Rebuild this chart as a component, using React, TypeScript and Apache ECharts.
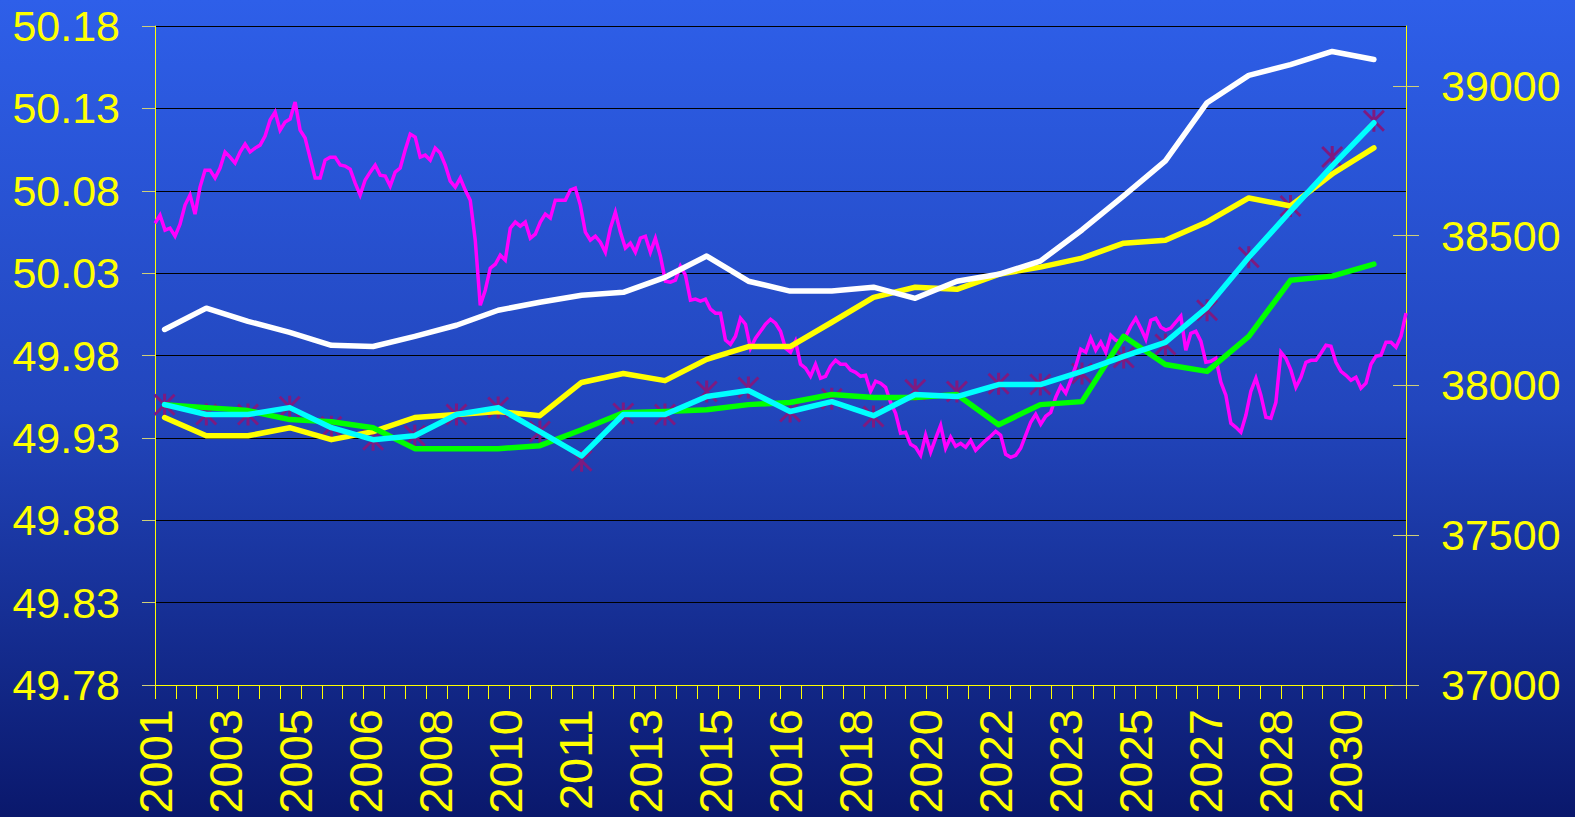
import React, { useEffect, useRef } from "react";
import * as echarts from "echarts";

// ---- data ----
const years = [2001, 2002, 2003, 2004, 2005, 2006, 2007, 2008, 2009, 2010, 2011, 2012, 2013, 2014, 2015, 2016, 2017, 2018, 2019, 2020, 2021, 2022, 2023, 2024, 2025, 2026, 2027, 2028, 2029, 2030];
const xTickLabels = ["2001", "2003", "2005", "2006", "2008", "2010", "2011", "2013", "2015", "2016", "2018", "2020", "2022", "2023", "2025", "2027", "2028", "2030"];
const rightTickValues = [37000, 37500, 38000, 38500, 39000];

const whiteSeries = [38187, 38258, 38214, 38177, 38134, 38130, 38164, 38201, 38251, 38278, 38301, 38311, 38361, 38432, 38348, 38315, 38315, 38328, 38291, 38348, 38371, 38415, 38519, 38633, 38750, 38944, 39035, 39071, 39115, 39088];
const yellowSeries = [37893, 37832, 37832, 37859, 37819, 37846, 37893, 37903, 37913, 37899, 38010, 38040, 38016, 38087, 38130, 38130, 38211, 38294, 38328, 38321, 38371, 38395, 38425, 38475, 38485, 38546, 38626, 38599, 38706, 38793];
const greenSeries = [37936, 37926, 37916, 37886, 37879, 37859, 37789, 37789, 37789, 37799, 37852, 37909, 37913, 37919, 37936, 37943, 37970, 37960, 37960, 37970, 37869, 37936, 37946, 38164, 38070, 38047, 38164, 38351, 38365, 38405];
const cyanSeries = [37936, 37903, 37903, 37926, 37859, 37819, 37832, 37903, 37926, 37846, 37765, 37903, 37903, 37963, 37983, 37913, 37946, 37899, 37970, 37963, 38003, 38003, 38047, 38097, 38144, 38261, 38428, 38582, 38733, 38877];
const starSeries = [37936, 37903, 37903, 37929, 37862, 37819, 37832, 37903, 37926, 37846, 37749, 37906, 37903, 37980, 37993, 37913, 37956, 37896, 37986, 37980, 38006, 38003, 38040, 38093, 38137, 38251, 38428, 38599, 38763, 38884];

const frequency = [
  50.0603, 50.0652, 50.0561, 50.0573, 50.0524, 50.0597, 50.0713, 50.0774, 50.0658, 50.0822,
  50.0925, 50.0925, 50.0877, 50.0938, 50.1035, 50.1004, 50.0968, 50.1035, 50.1083, 50.1035,
  50.1059, 50.1077, 50.1132, 50.1229, 50.1278, 50.1168, 50.1217, 50.1235, 50.1338, 50.1168,
  50.1120, 50.0998, 50.0877, 50.0877, 50.0986, 50.1004, 50.1004, 50.0956, 50.0950, 50.0931,
  50.0846, 50.0774, 50.0865, 50.0913, 50.0956, 50.0895, 50.0889, 50.0828, 50.0913, 50.0938,
  50.1047, 50.1144, 50.1126, 50.1004, 50.1016, 50.0986, 50.1059, 50.1029, 50.0956, 50.0859,
  50.0822, 50.0877, 50.0804, 50.0743, 50.0500, 50.0105, 50.0196, 50.0330, 50.0354, 50.0409,
  50.0379, 50.0573, 50.0610, 50.0585, 50.0610, 50.0512, 50.0537, 50.0610, 50.0658, 50.0634,
  50.0743, 50.0743, 50.0743, 50.0804, 50.0816, 50.0713, 50.0549, 50.0500, 50.0524, 50.0488,
  50.0427, 50.0573, 50.0670, 50.0549, 50.0452, 50.0482, 50.0427, 50.0512, 50.0524, 50.0427,
  50.0512, 50.0403, 50.0251, 50.0245, 50.0257, 50.0342, 50.0288, 50.0136, 50.0142, 50.0130,
  50.0142, 50.0081, 50.0057, 50.0057, 49.9893, 49.9868, 49.9917, 50.0026, 49.9990, 49.9844,
  49.9905, 49.9947, 49.9990, 50.0020, 49.9996, 49.9947, 49.9844, 49.9820, 49.9887, 49.9747,
  49.9723, 49.9674, 49.9747, 49.9662, 49.9674, 49.9735, 49.9771, 49.9747, 49.9747, 49.9711,
  49.9698, 49.9674, 49.9680, 49.9583, 49.9644, 49.9632, 49.9607, 49.9516, 49.9449, 49.9328,
  49.9334, 49.9261, 49.9243, 49.9194, 49.9316, 49.9213, 49.9297, 49.9376, 49.9237, 49.9304,
  49.9249, 49.9267, 49.9243, 49.9285, 49.9225, 49.9255, 49.9285, 49.9310, 49.9340, 49.9316,
  49.9200, 49.9182, 49.9194, 49.9237, 49.9316, 49.9395, 49.9443, 49.9383, 49.9431, 49.9455,
  49.9547, 49.9613, 49.9571, 49.9650, 49.9735, 49.9838, 49.9820, 49.9905, 49.9832, 49.9881,
  49.9820, 49.9923, 49.9893, 49.9881, 49.9917, 49.9978, 50.0026, 49.9966, 49.9899, 50.0014,
  50.0026, 49.9972, 49.9954, 49.9966, 50.0002, 50.0039, 49.9832, 49.9935, 49.9947, 49.9887,
  49.9759, 49.9765, 49.9783, 49.9638, 49.9559, 49.9389, 49.9364, 49.9334, 49.9437, 49.9583,
  49.9662, 49.9559, 49.9425, 49.9419, 49.9516, 49.9820, 49.9783, 49.9711, 49.9607, 49.9668,
  49.9759, 49.9771, 49.9771, 49.9814, 49.9862, 49.9856, 49.9759, 49.9704, 49.9680, 49.9650,
  49.9668, 49.9601, 49.9632, 49.9747, 49.9796, 49.9802, 49.9881, 49.9881, 49.9850, 49.9917,
  50.0057,
];

const LABEL_STEP = 14;
const FONT = "'Liberation Sans', Arial, sans-serif";
const YELLOW = "#FFFF00";
const STAR_PATH =
  "path://M8.5,-1L11.5,-1L11.5,21L8.5,21Z" +
  "M-1,1L1,-1L21,19L19,21Z" +
  "M19,-1L21,1L1,21L-1,19Z";

export default function App() {
  const ref = useRef<HTMLDivElement>(null);

  useEffect(() => {
    if (!ref.current) return;
    const chart = echarts.init(ref.current, null, { renderer: "svg" });

    const categories = frequency.map((_, i) =>
      i % LABEL_STEP === 0 && xTickLabels[i / LABEL_STEP] ? xTickLabels[i / LABEL_STEP] : ""
    );
    const pair = (vals: number[]) => vals.map((v, i) => [years[i], v]);

    const lineStyle = (color: string) => ({
      color,
      width: 5.5,
      cap: "round",
      join: "round",
    });

    const option: any = {
      animation: false,
      backgroundColor: {
        type: "linear",
        x: 0,
        y: 0,
        x2: 0,
        y2: 1,
        colorStops: [
          { offset: 0, color: "#2E5FE9" },
          { offset: 0.5, color: "#2246BD" },
          { offset: 1, color: "#0A186C" },
        ],
      },
      grid: {
        left: 155,
        right: 169,
        top: 26,
        bottom: 132,
        containLabel: false,
        outerBoundsMode: "none",
      },
      xAxis: [
        {
          type: "category",
          position: "bottom",
          data: categories,
          boundaryGap: false,
          axisLine: { show: false },
          axisTick: { show: false },
          splitLine: { show: false },
          axisLabel: {
            interval: (i: number) => i % LABEL_STEP === 0,
            rotate: 90,
            margin: 24,
            color: YELLOW,
            fontSize: 47,
            fontFamily: FONT,
          },
        },
        {
          type: "value",
          position: "bottom",
          min: 0,
          max: 60,
          interval: 1,
          axisLine: { show: true, lineStyle: { color: YELLOW, width: 1 } },
          axisTick: { show: true, length: 14, lineStyle: { color: YELLOW, width: 1 } },
          axisLabel: { show: false },
          splitLine: { show: false },
        },
        {
          type: "value",
          position: "bottom",
          min: 2000.77,
          max: 2030.77,
          show: false,
          splitLine: { show: false },
        },
      ],
      yAxis: [
        {
          type: "value",
          position: "left",
          min: 49.78,
          max: 50.18,
          interval: 0.05,
          axisLine: { show: true, lineStyle: { color: YELLOW, width: 1 } },
          axisTick: { show: true, length: 13, lineStyle: { color: "#CFCF78", width: 1 } },
          axisLabel: {
            margin: 35,
            color: YELLOW,
            fontSize: 43,
            fontFamily: FONT,
            formatter: (v: number) => v.toFixed(2),
          },
          splitLine: { show: true, lineStyle: { color: "#000000", width: 1 } },
        },
        {
          type: "value",
          position: "right",
          min: 37000,
          max: 39200,
          axisLine: { show: true, lineStyle: { color: YELLOW, width: 1 } },
          axisTick: {
            show: true,
            length: 13,
            customValues: rightTickValues,
            lineStyle: { color: "#CFCF78", width: 1 },
          },
          axisLabel: {
            customValues: rightTickValues,
            margin: 35,
            color: YELLOW,
            fontSize: 43,
            fontFamily: FONT,
            formatter: (v: number) => String(Math.round(v)),
          },
          splitLine: { show: false },
        },
        {
          type: "value",
          position: "right",
          min: 37000,
          max: 39200,
          axisLine: { show: false },
          axisTick: {
            show: true,
            inside: true,
            length: 13,
            customValues: rightTickValues,
            lineStyle: { color: "#CFCF78", width: 1 },
          },
          axisLabel: { show: false },
          splitLine: { show: false },
        },
      ],
      series: [
        {
          name: "frequency",
          type: "line",
          xAxisIndex: 0,
          yAxisIndex: 0,
          data: frequency,
          showSymbol: false,
          symbol: "none",
          lineStyle: { color: "#FF00FF", width: 3.5, join: "miter" },
        },
        {
          name: "stars",
          type: "scatter",
          xAxisIndex: 2,
          yAxisIndex: 1,
          data: pair(starSeries),
          symbol: STAR_PATH,
          symbolSize: 22,
          itemStyle: { color: "#7E1A80", opacity: 1 },
        },
        {
          name: "yellow",
          type: "line",
          xAxisIndex: 2,
          yAxisIndex: 1,
          data: pair(yellowSeries),
          symbol: "none",
          lineStyle: lineStyle("#FFFF00"),
        },
        {
          name: "white",
          type: "line",
          xAxisIndex: 2,
          yAxisIndex: 1,
          data: pair(whiteSeries),
          symbol: "none",
          lineStyle: lineStyle("#FFFFFF"),
        },
        {
          name: "green",
          type: "line",
          xAxisIndex: 2,
          yAxisIndex: 1,
          data: pair(greenSeries),
          symbol: "none",
          lineStyle: lineStyle("#00FF00"),
        },
        {
          name: "cyan",
          type: "line",
          xAxisIndex: 2,
          yAxisIndex: 1,
          data: pair(cyanSeries),
          symbol: "none",
          lineStyle: lineStyle("#00FFFF"),
        },
      ],
    };

    chart.setOption(option);
    return () => chart.dispose();
  }, []);

  return (
    <div
      ref={ref}
      style={{ position: "fixed", left: 0, top: 0, width: 1575, height: 817 }}
    />
  );
}
